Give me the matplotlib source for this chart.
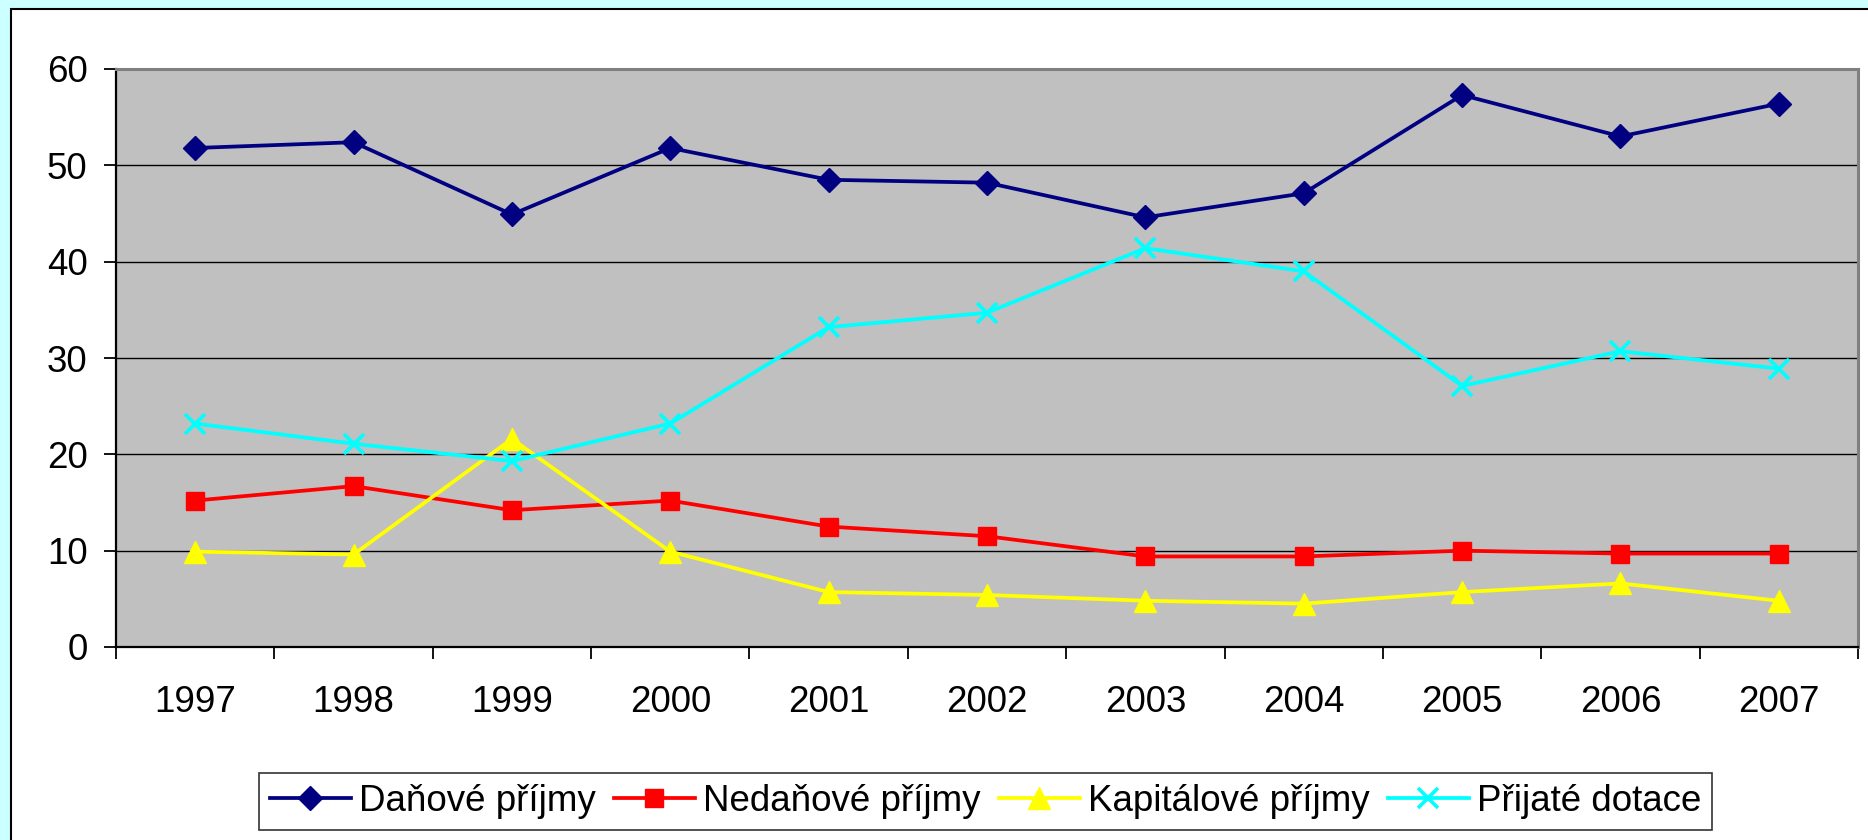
import matplotlib
matplotlib.use("Agg")
import matplotlib.pyplot as plt
from matplotlib.patches import Rectangle
import numpy as np

plt.rcParams['font.family'] = ['Liberation Sans', 'DejaVu Sans']

years = ['1997', '1998', '1999', '2000', '2001', '2002', '2003', '2004', '2005', '2006', '2007']
danove = [51.8, 52.4, 44.9, 51.8, 48.5, 48.2, 44.6, 47.1, 57.3, 53.0, 56.4]
nedanove = [15.2, 16.7, 14.2, 15.2, 12.5, 11.5, 9.4, 9.4, 10.0, 9.7, 9.7]
kapitalove = [9.9, 9.6, 21.6, 9.9, 5.7, 5.4, 4.8, 4.5, 5.7, 6.6, 4.8]
dotace = [23.2, 21.1, 19.3, 23.2, 33.2, 34.7, 41.4, 39.0, 27.1, 30.7, 28.9]
series_names = ['Daňové příjmy', 'Nedaňové příjmy', 'Kapitálové příjmy', 'Přijaté dotace']
yticks = [0, 10, 20, 30, 40, 50, 60]

W, H = 1868, 840
fig = plt.figure(figsize=(W / 100, H / 100), dpi=100)
fig.patch.set_facecolor('#CCFFFF')
fig.patches.append(Rectangle((11 / W, -0.1), 1.2, 1 - 9 / H + 0.1, transform=fig.transFigure,
                             facecolor='white', edgecolor='black', linewidth=1.5, zorder=-10))

left, right, top, bottom = 116, 1858, 69, 647
ax = fig.add_axes([left / W, 1 - bottom / H, (right - left) / W, (bottom - top) / H])
ax.set_zorder(5)
ax.set_facecolor('#C0C0C0')

x = np.arange(len(years))
styles = [
    dict(color='#000080', marker='D', ms=12),
    dict(color='#FF0000', marker='s', ms=13.5),
    dict(color='#FFFF00', marker='^', ms=16),
    dict(color='#00FFFF', marker='x', ms=15, mew=2.6),
]
for vals, name, st in zip([danove, nedanove, kapitalove, dotace], series_names, styles):
    ax.plot(x, vals, color=st['color'], lw=2.7, marker=st['marker'], ms=st['ms'],
            mfc=st['color'], mec=st['color'], mew=st.get('mew', 1), label=name, zorder=3)

ax.set_xlim(-0.5, len(years) - 0.5)
ax.set_ylim(0, 60)
ax.set_yticks(yticks)
ax.yaxis.grid(True, color='black', lw=1.0)
ax.set_axisbelow(True)

ax.set_xticks(x)
ax.set_xticklabels(years)
ax.set_xticks(np.arange(-0.5, len(years)), minor=True)
ax.tick_params(axis='x', which='major', length=0, pad=27, labelsize=26.5)
ax.tick_params(axis='x', which='minor', length=8.5, width=1.3, color='black', direction='out')
ax.tick_params(axis='y', length=8.5, width=1.3, pad=12, labelsize=26.5, direction='out')

for s in ['left', 'bottom']:
    ax.spines[s].set_color('black')
    ax.spines[s].set_linewidth(1.6)
for s in ['top', 'right']:
    ax.spines[s].set_color('#808080')
    ax.spines[s].set_linewidth(2.2)

leg = fig.legend(loc='center', bbox_to_anchor=((258 + 1713) / 2 / W, 1 - 801.5 / H), ncol=4,
                 fontsize=26.5, frameon=True, fancybox=False, shadow=False,
                 handlelength=2.2, handletextpad=0.22, columnspacing=0.5,
                 borderpad=0.3, borderaxespad=0)
leg.get_frame().set_edgecolor('black')
leg.get_frame().set_linewidth(1.2)
leg.set_zorder(6)

fig.savefig('out.png', dpi=100, facecolor=fig.get_facecolor())
